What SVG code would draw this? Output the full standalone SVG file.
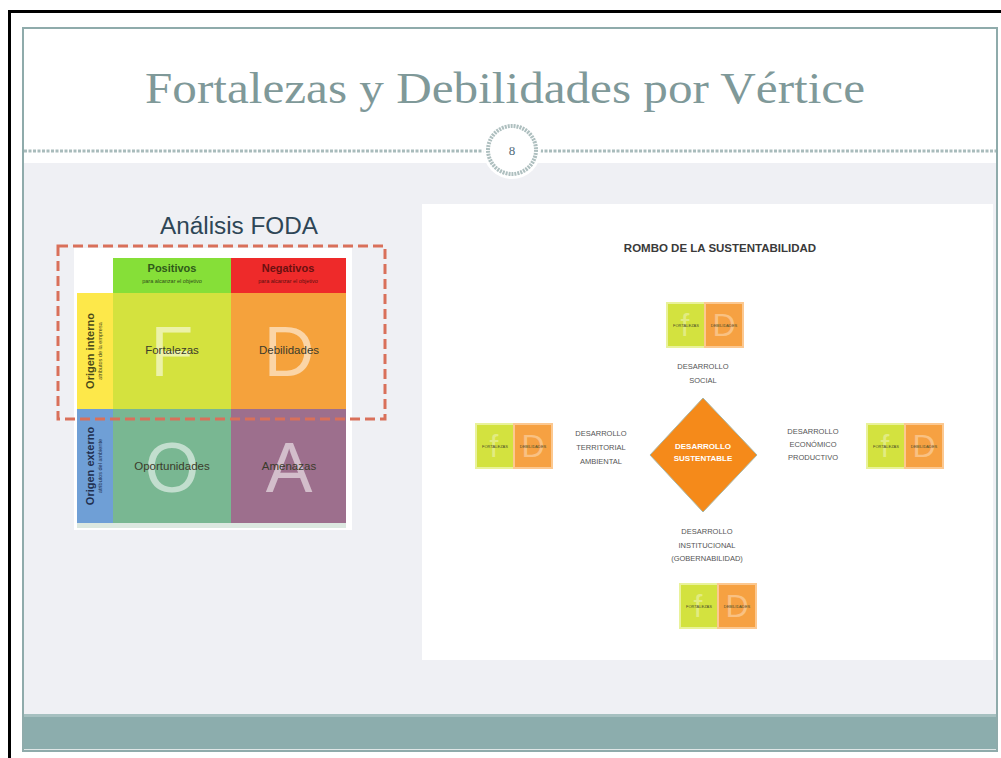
<svg xmlns="http://www.w3.org/2000/svg" width="1001" height="758" viewBox="0 0 1001 758">
<style>
.title{font-family:"Liberation Serif",serif;font-size:44px;fill:#7f9999}
.foda{font-family:"Liberation Sans",Arial,sans-serif;font-size:23px;fill:#2e4656}
.cell{font-family:"Liberation Sans",Arial,sans-serif;font-size:11.5px;fill:#3b3b2b;text-anchor:middle}
.big{font-family:"Liberation Sans",Arial,sans-serif;font-size:70px;fill:#ffffff;fill-opacity:0.55;text-anchor:middle}
.hdr{font-family:"Liberation Sans",Arial,sans-serif;font-size:11px;font-weight:bold;text-anchor:middle}
.sub{font-family:"Liberation Sans",Arial,sans-serif;font-size:5.5px;text-anchor:middle}
.vert{font-family:"Liberation Sans",Arial,sans-serif;font-size:11px;font-weight:bold;text-anchor:middle}
.vsub{font-family:"Liberation Sans",Arial,sans-serif;font-size:5.5px;text-anchor:middle}
.rt{font-family:"Liberation Sans",Arial,sans-serif;font-size:11.5px;font-weight:bold;fill:#3a3a3a;text-anchor:middle}
.lbl{font-family:"Liberation Sans",Arial,sans-serif;font-size:7.5px;fill:#555;text-anchor:middle}
.dia{font-family:"Liberation Sans",Arial,sans-serif;font-size:8px;font-weight:bold;fill:#fff;text-anchor:middle}
.fbig{font-family:"Liberation Sans",Arial,sans-serif;font-size:32px;fill:#fff;fill-opacity:0.35;text-anchor:middle}
.tiny{font-family:"Liberation Sans",Arial,sans-serif;font-size:4px;fill:#4a4a2a;text-anchor:middle}
</style>
<defs>
<g id="fd">
<rect x="0" y="0" width="38" height="44" fill="#d3e23f" stroke="#e9f29a" stroke-width="2"/>
<rect x="38" y="0" width="38" height="44" fill="#f6a142" stroke="#fcc890" stroke-width="2"/>
<text class="fbig" x="18" y="33">f</text>
<text class="fbig" x="57" y="33">D</text>
<text class="tiny" x="19" y="24">FORTALEZAS</text>
<text class="tiny" x="57" y="24">DEBILIDADES</text>
</g>
</defs>
<rect width="1001" height="758" fill="#ffffff"/>
<!-- outer frame -->
<rect x="8" y="10" width="993" height="3" fill="#000"/>
<rect x="8" y="10" width="3" height="748" fill="#000"/>
<!-- slide -->
<rect x="22" y="27" width="976" height="725" fill="#eff0f4"/>
<rect x="22" y="27" width="976" height="136" fill="#ffffff"/>
<rect x="22" y="714" width="976" height="35" fill="#8cadad"/>
<rect x="22" y="714" width="976" height="3" fill="#a6c0c0"/>
<rect x="22" y="749" width="976" height="3" fill="#dfe6e6"/>
<rect x="23" y="28" width="974" height="723" fill="none" stroke="#8fabab" stroke-width="2"/>
<!-- title -->
<text class="title" x="505" y="103" text-anchor="middle" textLength="720" lengthAdjust="spacingAndGlyphs">Fortalezas y Debilidades por Vértice</text>
<!-- dashed line & number -->
<line x1="24" y1="151" x2="484" y2="151" stroke="#a9bcbc" stroke-width="3" stroke-dasharray="3,1.5"/>
<line x1="540" y1="151" x2="996" y2="151" stroke="#a9bcbc" stroke-width="3" stroke-dasharray="3,1.5"/>
<circle cx="512" cy="150" r="29" fill="#ffffff"/>
<circle cx="512" cy="150" r="24" fill="#ffffff" stroke="#aebfbf" stroke-width="4" stroke-dasharray="2,1"/>
<text x="512" y="155" font-family="Liberation Serif,serif" font-size="13" fill="#4f6a78" text-anchor="middle">8</text>

<!-- FODA matrix -->
<g id="foda">
<text class="foda" x="239" y="234" text-anchor="middle" textLength="158" lengthAdjust="spacingAndGlyphs">Análisis FODA</text>
<rect x="74" y="248" width="278" height="282" fill="#ffffff"/>
<rect x="113" y="258" width="118" height="35" fill="#86df38"/>
<rect x="231" y="258" width="115" height="35" fill="#ee2a2a"/>
<text class="hdr" x="172" y="272" fill="#2f5a1a">Positivos</text>
<text class="sub" x="172" y="283" fill="#2f4a1a">para alcanzar el objetivo</text>
<text class="hdr" x="288" y="272" fill="#6a1010">Negativos</text>
<text class="sub" x="288" y="283" fill="#5a1010">para alcanzar el objetivo</text>
<rect x="77" y="293" width="36" height="116" fill="#fde84a"/>
<rect x="77" y="409" width="36" height="114" fill="#6f9fd6"/>
<rect x="113" y="293" width="118" height="116" fill="#d4e23e"/>
<rect x="231" y="293" width="115" height="116" fill="#f5a23c"/>
<rect x="113" y="409" width="118" height="114" fill="#79b792"/>
<rect x="231" y="409" width="115" height="114" fill="#9d6f8d"/>
<rect x="77" y="523" width="269" height="5" fill="#dce8e0"/>
<text class="big" x="172" y="376">F</text>
<text class="big" x="289" y="376">D</text>
<text class="big" x="172" y="492">O</text>
<text class="big" x="289" y="492">A</text>
<text class="cell" x="172" y="354">Fortalezas</text>
<text class="cell" x="289" y="354">Debilidades</text>
<text class="cell" x="172" y="470">Oportunidades</text>
<text class="cell" x="289" y="470">Amenazas</text>
<text class="vert" transform="translate(94,351) rotate(-90)" fill="#4a4a1a">Origen interno</text>
<text class="vsub" transform="translate(102,351) rotate(-90)" fill="#4a4a1a">atributos de la empresa</text>
<text class="vert" transform="translate(94,466) rotate(-90)" fill="#1f2f4f">Origen externo</text>
<text class="vsub" transform="translate(102,466) rotate(-90)" fill="#1f2f4f">atributos del ambiente</text>
<rect x="58" y="246" width="327" height="173" fill="none" stroke="#d9705a" stroke-width="3" stroke-dasharray="10,5"/>
</g>

<!-- Rombo -->
<rect x="422" y="204" width="571" height="456" fill="#ffffff"/>
<text class="rt" x="720" y="252">ROMBO DE LA SUSTENTABILIDAD</text>
<g id="diamond">
<polygon points="703,398 757,455 703,512 650,455" fill="#f58a1a" stroke="#a8b8a8" stroke-width="1"/>
<text class="dia" x="703" y="449">DESARROLLO</text>
<text class="dia" x="703" y="461">SUSTENTABLE</text>
</g>
<g id="fd-top"><use href="#fd" x="667" y="303"/></g>
<g id="fd-left"><use href="#fd" x="476" y="424"/></g>
<g id="fd-right"><use href="#fd" x="867" y="424"/></g>
<g id="fd-bottom"><use href="#fd" x="680" y="584"/></g>
<g id="labels">
<text class="lbl" x="703" y="369">DESARROLLO</text>
<text class="lbl" x="703" y="383">SOCIAL</text>
<text class="lbl" x="601" y="436">DESARROLLO</text>
<text class="lbl" x="601" y="450">TERRITORIAL</text>
<text class="lbl" x="601" y="464">AMBIENTAL</text>
<text class="lbl" x="813" y="434">DESARROLLO</text>
<text class="lbl" x="813" y="447">ECONÓMICO</text>
<text class="lbl" x="813" y="460">PRODUCTIVO</text>
<text class="lbl" x="707" y="534">DESARROLLO</text>
<text class="lbl" x="707" y="548">INSTITUCIONAL</text>
<text class="lbl" x="707" y="561">(GOBERNABILIDAD)</text>
</g>
</svg>
